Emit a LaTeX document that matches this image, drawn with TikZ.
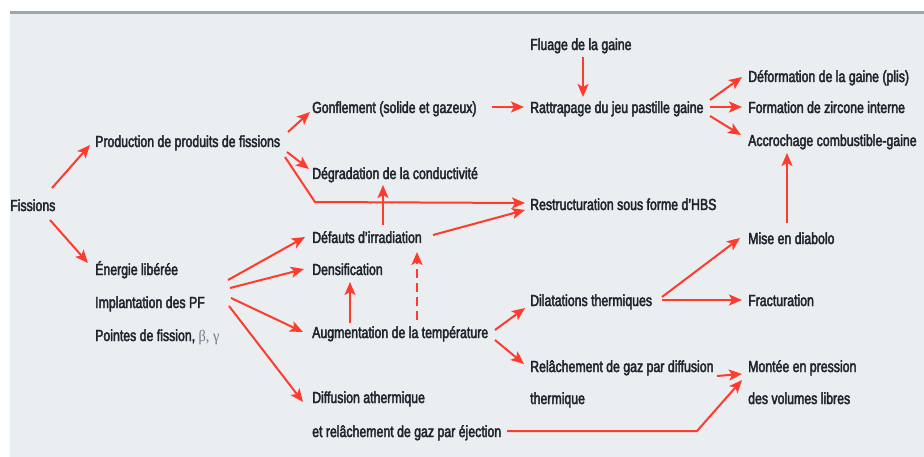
\documentclass[tikz,border=0pt]{standalone}
\usepackage{fontspec}
\setmainfont{Liberation Sans}[FakeStretch=0.77, FakeBold=2.6]
\newfontfamily\grkfont{Liberation Serif}[FakeStretch=0.9]
\usetikzlibrary{arrows.meta}
\definecolor{bg}{HTML}{EAEEF0}
\definecolor{topline}{HTML}{9EA7AE}
\definecolor{arrred}{HTML}{FF3B2E}
\definecolor{txt}{HTML}{1E252D}
\definecolor{grk}{HTML}{6C7A8C}
\tikzset{
  lbl/.style={anchor=base west, inner sep=0pt, text=txt, align=left,
    font=\fontsize{16}{33}\selectfont},
  arr/.style={draw=arrred, line width=2pt, line join=miter,
    -{Stealth[length=13pt,width=11pt,inset=3pt]}},
}
\begin{document}
\begin{tikzpicture}[x=1pt,y=-1pt]
\useasboundingbox (0,0) rectangle (924,457);
\fill[white] (0,0) rectangle (924,457);
\fill[bg] (10,12) rectangle (924,457);
\draw[topline, line width=2.5pt] (10,12.5) -- (924,12.5);

% nodes (base west = baseline of the last line)
\node[lbl] (fis)  at (10,211)  {Fissions};
\node[lbl] (prod) at (95,147)  {Production de produits de fissions};
\node[lbl] (gonf) at (312,113) {Gonflement (solide et gazeux)};
\node[lbl] (deg)  at (312,179) {Dégradation de la conductivité};
\node[lbl] (flu)  at (530,50)  {Fluage de la gaine};
\node[lbl] (ratt) at (530,113) {Rattrapage du jeu pastille gaine};
\node[lbl] (defo) at (748,82)  {Déformation de la gaine (plis)};
\node[lbl] (form) at (748,113) {Formation de zircone interne};
\node[lbl] (accr) at (748,146) {Accrochage combustible-gaine};
\node[lbl] (rest) at (530,210) {Restructuration sous forme d’HBS};
\node[lbl] (defa) at (312,243) {Défauts d’irradiation};
\node[lbl] (dens) at (312,275) {Densification};
\node[lbl] (grp)  at (95,341)  {Énergie libérée\\Implantation des PF\\Pointes de fission, {\color{grk}\grkfont β, γ}};
\node[lbl] (aug)  at (312,338) {Augmentation de la température};
\node[lbl] (dil)  at (530,306) {Dilatations thermiques};
\node[lbl, font=\fontsize{16}{32}\selectfont] (rel)  at (530,404) {Relâchement de gaz par diffusion\\thermique};
\node[lbl, font=\fontsize{16}{34}\selectfont] (diff) at (312,437) {Diffusion athermique\\et relâchement de gaz par éjection};
\node[lbl] (mise) at (748,244) {Mise en diabolo};
\node[lbl] (frac) at (748,306) {Fracturation};
\node[lbl, font=\fontsize{16}{32}\selectfont] (mont) at (748,404) {Montée en pression\\des volumes libres};

% connectors
\draw[arr] ([shift={(42,-23)}]fis.base west) -- ([shift={(-5,-2)}]prod.base west);
\draw[arr] ([shift={(40,9)}]fis.base west) -- ([shift={(-7,-78)}]grp.base west);
\draw[arr] ([shift={(193,-15)}]prod.base west) -- ([shift={(-2,-1)}]gonf.base west);
\draw[arr] ([shift={(192,5)}]prod.base west) -- ([shift={(-3,-10)}]deg.base west);
\draw[arr] ([shift={(190,10)}]prod.base west) -- ([shift={(3,23)}]deg.base west) -- ([shift={(-5,-7)}]rest.base west);
\draw[arr] ([shift={(71,-18)}]defa.base west) -- ([shift={(71,6)}]deg.base west);
\draw[arr] ([shift={(121,-8)}]defa.base west) -- ([shift={(-5,0)}]rest.base west);
\draw[arr] ([shift={(180,-6)}]gonf.base west) -- ([shift={(-6,-6)}]ratt.base west);
\draw[arr] ([shift={(53,7)}]flu.base west) -- ([shift={(53,-16)}]ratt.base west);
\draw[arr] ([shift={(180,-13)}]ratt.base west) -- ([shift={(-6,-5)}]defo.base west);
\draw[arr] ([shift={(180,-6)}]ratt.base west) -- ([shift={(-6,-6)}]form.base west);
\draw[arr] ([shift={(180,3)}]ratt.base west) -- ([shift={(-7,-11)}]accr.base west);
\draw[arr] ([shift={(39,-21)}]mise.base west) -- ([shift={(39,7)}]accr.base west);
\draw[arr] ([shift={(133,-61)}]grp.base west) -- ([shift={(-7,-6)}]defa.base west);
\draw[arr] ([shift={(135,-53)}]grp.base west) -- ([shift={(-8,-6)}]dens.base west);
\draw[arr] ([shift={(136,-43)}]grp.base west) -- ([shift={(-9,-6)}]aug.base west);
\draw[arr] ([shift={(134,-35)}]grp.base west) -- ([shift={(-9,-35)}]diff.base west);
\draw[arr] ([shift={(38,-15)}]aug.base west) -- ([shift={(38,7)}]dens.base west);
\draw[arr, dash pattern=on 9pt off 5pt] ([shift={(105,-18)}]aug.base west) -- ([shift={(105,9)}]defa.base west);
\draw[arr] ([shift={(183,-8)}]aug.base west) -- ([shift={(-5,2)}]dil.base west);
\draw[arr] ([shift={(183,2)}]aug.base west) -- ([shift={(-6,-40)}]rel.base west);
\draw[arr] ([shift={(132,-9)}]dil.base west) -- ([shift={(-8,-6)}]mise.base west);
\draw[arr] ([shift={(132,-6)}]dil.base west) -- ([shift={(-6,-6)}]frac.base west);
\draw[arr] ([shift={(187,-28)}]rel.base west) -- ([shift={(-6,-30)}]mont.base west);
\draw[arr] ([shift={(195,-6)}]diff.base west) -- ([shift={(-51,27)}]mont.base west) -- ([shift={(-6,-24)}]mont.base west);
\end{tikzpicture}
\end{document}
